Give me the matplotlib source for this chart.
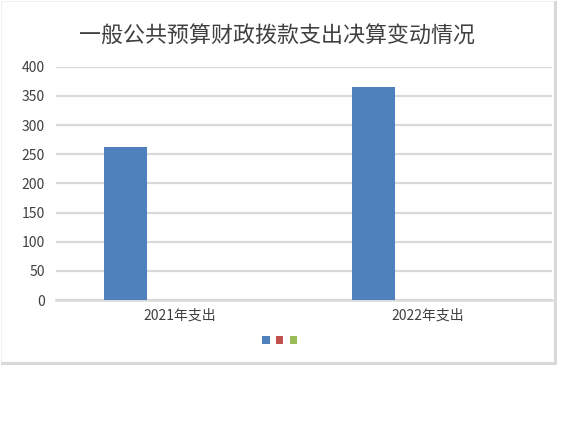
import matplotlib
matplotlib.use("Agg")
import matplotlib.pyplot as plt
from matplotlib.patches import Rectangle, Patch
from matplotlib.lines import Line2D
import numpy as np

plt.rcParams['font.family'] = ['Noto Sans CJK SC', 'DejaVu Sans']

title = "一般公共预算财政拨款支出决算变动情况"
categories = ["2021年支出", "2022年支出"]
series1 = [263, 365]
series2 = [0, 0]
series3 = [0, 0]
colors = ["#4F81BD", "#C0504D", "#9BBB59"]
yticks = [0, 50, 100, 150, 200, 250, 300, 350, 400]

W, H = 581, 433
fig = plt.figure(figsize=(W / 100, H / 100), dpi=100)
fig.patch.set_facecolor("white")

# chart frame with shadow
fig.add_artist(Line2D([554.5 / W, 554.5 / W], [1 - 2 / H, 1 - 363 / H], color="#d9d9d9", lw=2.2, transform=fig.transFigure))
fig.add_artist(Line2D([2 / W, 555 / W], [1 - 362.5 / H, 1 - 362.5 / H], color="#d9d9d9", lw=2.2, transform=fig.transFigure))
fig.add_artist(Rectangle((1 / W, 1 - 362 / H), 552.5 / W, 361 / H, fill=False, edgecolor="#f0f0f0", lw=0.8, transform=fig.transFigure))

ax = fig.add_axes([56 / W, 1 - 300 / H, 496 / W, 233.3 / H])
x = np.arange(len(categories))
bw = 43 / 248
off = 55 / 248
for i, (vals, c) in enumerate(zip([series1, series2, series3], colors)):
    ax.bar(x + (i - 1) * off, vals, width=bw, color=c, zorder=3)

ax.set_xlim(-0.5, 1.5)
ax.set_ylim(0, 400)
ax.set_yticks(yticks)
ax.set_yticklabels([str(v) for v in yticks], fontsize=10, color="#404040")
ax.yaxis.grid(True, color="#d9d9d9", lw=1.6, zorder=0)
ax.set_axisbelow(True)
ax.set_xticks(x)
ax.set_xticklabels(categories, fontsize=10, color="#404040")
ax.tick_params(axis="both", length=0)
ax.tick_params(axis="y", pad=8)
ax.tick_params(axis="x", pad=6)
for s in ["top", "right", "left"]:
    ax.spines[s].set_visible(False)
ax.spines["bottom"].set_color("#d9d9d9")
ax.spines["bottom"].set_linewidth(1.8)

fig.text(277 / W, 1 - 37 / H, title, fontsize=15.8, color="#404040", ha="center", va="center")

handles = [Patch(facecolor=c, edgecolor="none") for c in colors]
fig.legend(handles, ["", "", ""], loc="center", bbox_to_anchor=(279.5 / W, 1 - 341 / H),
           ncol=3, frameon=False, handlelength=0.6, handleheight=0.6, handletextpad=0,
           columnspacing=0.5, fontsize=9)

fig.savefig("out.png", dpi=100)
